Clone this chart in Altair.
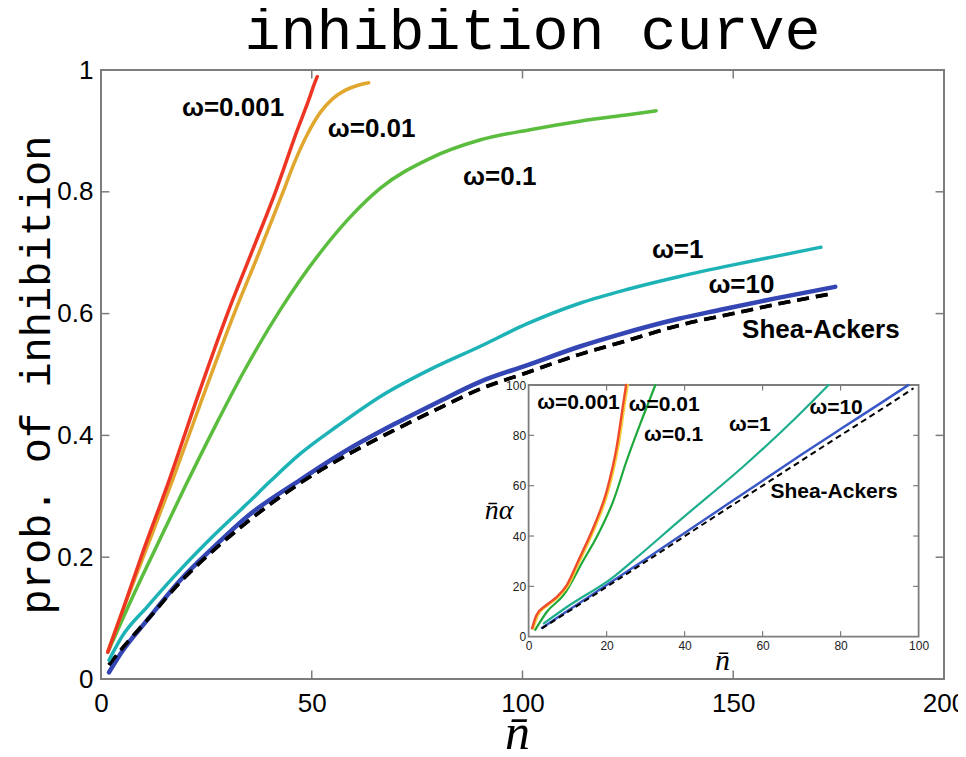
import altair as alt
import pandas as pd

# ---------------- data ----------------
# main panel: probability of inhibition vs n-bar
red_x = [1.6, 5, 9.5, 16.2, 23, 30, 36, 41.4, 46.5, 49.5, 50.5, 51.3]
red_y = [0.044, 0.11, 0.2, 0.327, 0.465, 0.6, 0.705, 0.8, 0.9, 0.955, 0.975, 0.989]

orange_x = [1.6, 5, 10, 17, 24, 31.6, 37.5, 43.2, 46, 49, 52, 55, 58, 61, 63.5]
orange_y = [0.045, 0.11, 0.2, 0.327, 0.46, 0.6, 0.7, 0.8, 0.85, 0.895, 0.93, 0.953, 0.967, 0.975, 0.979]

green_x = [1.6, 6, 11.8, 20.1, 27, 33.5, 42.6, 52, 60, 66.3, 78.1, 89.9, 101.8, 113.6, 125.5, 131.7]
green_y = [0.044, 0.112, 0.198, 0.318, 0.414, 0.5, 0.607, 0.7, 0.765, 0.806, 0.855, 0.885, 0.902, 0.916, 0.927, 0.933]

cyan_x = [1.9, 5, 11, 18.9, 26.8, 34.7, 40.2, 47.3, 56, 66.3, 78, 89.9, 101, 113.6, 125, 137.3, 150, 160, 170.8]
cyan_y = [0.031, 0.07, 0.119, 0.18, 0.236, 0.288, 0.325, 0.37, 0.415, 0.464, 0.508, 0.546, 0.583, 0.617, 0.64, 0.661, 0.68, 0.694, 0.709]

blue_x = [1.9, 5, 11, 18.9, 26.8, 34.7, 47.3, 58.4, 70, 80, 89.9, 101, 113.6, 123.1, 137.3, 146.7, 160, 174.2]
blue_y = [0.011, 0.045, 0.097, 0.163, 0.217, 0.267, 0.327, 0.376, 0.42, 0.455, 0.488, 0.515, 0.546, 0.566, 0.592, 0.606, 0.625, 0.644]

sa_x = [1.9, 5, 11, 18.9, 26.8, 34.7, 47.3, 58.4, 70, 80, 89.9, 101, 113.6, 125, 137.3, 150, 160, 173.6]
sa_y = [0.023, 0.05, 0.097, 0.16, 0.212, 0.258, 0.322, 0.368, 0.41, 0.444, 0.476, 0.503, 0.533, 0.556, 0.581, 0.6, 0.615, 0.633]

# inset: n-bar_alpha vs n-bar
in_red_x = [0.9, 2, 4.5, 7, 9.8, 12.4, 14.5, 16.7, 20.1, 22.6, 24.4, 25.0]
in_red_y = [3.3, 8.5, 12.5, 15.5, 20.5, 29, 36, 43.7, 58.3, 75.5, 94, 100]
in_yel_x = [1.2, 2.4, 4.9, 7.4, 10.2, 12.8, 14.9, 17.1, 20.5, 23, 24.8, 25.4]
in_yel_y = [3.3, 8.5, 12.5, 15.5, 20.5, 29, 36, 43.7, 58.3, 75.5, 94, 100]
in_green_x = [1.7, 4.7, 9, 14.1, 17.5, 21.8, 25.2, 29, 32.5]
in_green_y = [2.7, 9.9, 16.6, 30.5, 39.7, 54.3, 70.2, 86.1, 100]
in_teal_x = [3.9, 10, 21.8, 27, 38.9, 56, 68.8, 76.9]
in_teal_y = [5.3, 12, 23.8, 30.5, 46.4, 68.9, 87.4, 100]
in_blue_x = [3.4, 10, 20, 30, 40, 50, 60, 70, 80, 90, 97.4]
in_blue_y = [3.5, 10.3, 20.5, 30.8, 41.2, 51.6, 62, 72.4, 82.5, 92.5, 100]
in_sa_x = [3.4, 10, 20, 30, 40, 50, 60, 70, 80, 90, 98.7]
in_sa_y = [3.3, 9.8, 19.8, 29.8, 39.9, 50, 60, 70, 80, 89.9, 98.7]

# labels
main_labels = ["ω=0.001", "ω=0.01", "ω=0.1", "ω=1", "ω=10", "Shea-Ackers"]
main_label_x = [19.2, 53.8, 85.9, 130.7, 144.1, 152.1]
main_label_y = [0.9376, 0.903, 0.825, 0.704, 0.647, 0.573]
inset_labels = ["ω=0.001", "ω=0.01", "ω=0.1", "ω=1", "ω=10", "Shea-Ackers"]
inset_label_x = [2.2, 25.7, 29.6, 51.4, 72, 62]
inset_label_y = [92.8, 92, 80.1, 84.1, 90.9, 57.6]

main_xticks = [0, 50, 100, 150, 200]
main_yticks = [0, 0.2, 0.4, 0.6, 0.8, 1]
inset_ticks = [0, 20, 40, 60, 80, 100]

# ---------------- layout ----------------
W, H = 843, 609
FRAME = "#7d7d7d"

mx = alt.Scale(domain=[0, 200], nice=False, zero=False)
my = alt.Scale(domain=[0, 1], nice=False, zero=False)
ix = alt.Scale(domain=[0, 100], nice=False, zero=False, range=[427.6, 817.6])
iy = alt.Scale(domain=[0, 100], nice=False, zero=False, range=[566.7, 315.0])

AXM_X = alt.Axis(orient="bottom", values=main_xticks, grid=False, ticks=False, domain=False,
                 labelFlush=False, labelOverlap=False,
                 labelFont="Liberation Sans", labelFontSize=26, labelColor="black", labelPadding=11,
                 title="n̄", titleFont="Liberation Serif", titleFontStyle="italic",
                 titleFontWeight="normal", titleFontSize=50, titleColor="black",
                 titleX=416, titleY=69, titleBaseline="alphabetic", titleAlign="center")
AXM_Y = alt.Axis(orient="left", values=main_yticks, format="~g", grid=False, ticks=False, domain=False,
                 labelFlush=False, labelOverlap=False,
                 labelFont="Liberation Sans", labelFontSize=26, labelColor="black", labelPadding=8,
                 title="prob. of inhibition", titleFont="Liberation Mono", titleFontSize=42,
                 titleFontWeight="normal", titleColor="black", titleX=-65, titleAngle=270,
                 titleBaseline="middle", titleAlign="center")
AXI_X = alt.Axis(orient="bottom", offset=-42.3, values=inset_ticks, grid=False, ticks=False, domain=False,
                 labelFlush=False, labelOverlap=False,
                 labelFont="Liberation Sans", labelFontSize=12, labelColor="#222", labelPadding=4,
                 title="n̄", titleFont="Liberation Serif", titleFontStyle="italic",
                 titleFontWeight="normal", titleFontSize=30, titleColor="black",
                 titleX=621, titleY=33, titleBaseline="alphabetic", titleAlign="center")
AXI_Y = alt.Axis(orient="left", offset=-427.6, values=inset_ticks, grid=False, ticks=False, domain=False,
                 labelFlush=False, labelOverlap=False,
                 labelFont="Liberation Sans", labelFontSize=12, labelColor="#222", labelPadding=3,
                 title="n̄α", titleFont="Liberation Serif", titleFontStyle="italic",
                 titleFontWeight="normal", titleFontSize=28, titleColor="black",
                 titleAngle=0, titleX=-30, titleY=440, titleBaseline="middle", titleAlign="center")


def line(xs, ys, color, width, xs_scale, ys_scale, ax_x, ax_y, dash=None):
    df = pd.DataFrame({"x": xs, "y": ys, "o": list(range(len(xs)))})
    kw = dict(color=color, strokeWidth=width, strokeCap="round", strokeJoin="round",
              interpolate="monotone")
    if dash is not None:
        kw["strokeDash"] = dash
        kw["strokeCap"] = "butt"
    return alt.Chart(df).mark_line(**kw).encode(
        x=alt.X("x:Q", scale=xs_scale, axis=ax_x),
        y=alt.Y("y:Q", scale=ys_scale, axis=ax_y),
        order="o:Q",
    )


def labels(texts, xs, ys, size, xs_scale, ys_scale, ax_x, ax_y):
    df = pd.DataFrame({"t": texts, "x": xs, "y": ys})
    return alt.Chart(df).mark_text(font="Liberation Sans", fontWeight="bold", fontSize=size,
                                   align="left", baseline="middle", color="black").encode(
        x=alt.X("x:Q", scale=xs_scale, axis=ax_x),
        y=alt.Y("y:Q", scale=ys_scale, axis=ax_y),
        text="t:N",
    )


def vticks(vals, y0, y1, xs_scale, ys_scale, ax_x, ax_y, w):
    df = pd.DataFrame({"t": vals})
    return alt.Chart(df).mark_rule(color=FRAME, strokeWidth=w).encode(
        x=alt.X("t:Q", scale=xs_scale, axis=ax_x),
        y=alt.YDatum(y0, scale=ys_scale, axis=ax_y),
        y2=alt.Y2Datum(y1),
    )


def hticks(vals, x0, x1, xs_scale, ys_scale, ax_x, ax_y, w):
    df = pd.DataFrame({"t": vals})
    return alt.Chart(df).mark_rule(color=FRAME, strokeWidth=w).encode(
        y=alt.Y("t:Q", scale=ys_scale, axis=ax_y),
        x=alt.XDatum(x0, scale=xs_scale, axis=ax_x),
        x2=alt.X2Datum(x1),
    )


M = (mx, my, AXM_X, AXM_Y)
main = alt.layer(
    vticks(main_xticks[1:-1], 0, 0.014, *M, 1.5),
    vticks(main_xticks[1:-1], 1, 0.986, *M, 1.5),
    hticks(main_yticks[1:-1], 0, 2.0, *M, 1.5),
    hticks(main_yticks[1:-1], 200, 198.0, *M, 1.5),
    line(sa_x, sa_y, "black", 3.6, *M, dash=[12, 7]),
    line(blue_x, blue_y, "#3445B4", 4.5, *M),
    line(sa_x, sa_y, "black", 3.6, *M, dash=[12, 7]),
    line(cyan_x, cyan_y, "#1DB3B6", 3.5, *M),
    line(green_x, green_y, "#5BBD3E", 3.5, *M),
    line(orange_x, orange_y, "#E0A62E", 3.5, *M),
    line(red_x, red_y, "#EE3524", 3.5, *M),
    labels(main_labels, main_label_x, main_label_y, 26, *M),
)

I = (ix, iy, AXI_X, AXI_Y)
bg = alt.Chart(pd.DataFrame({"a": [0]})).mark_rect(fill="white", stroke=FRAME, strokeWidth=1.8).encode(
    x=alt.XDatum(0, scale=ix, axis=AXI_X), x2=alt.X2Datum(100),
    y=alt.YDatum(0, scale=iy, axis=AXI_Y), y2=alt.Y2Datum(100),
)
inset = alt.layer(
    bg,
    vticks(inset_ticks[1:-1], 0, 2.2, *I, 1.2),
    vticks(inset_ticks[1:-1], 100, 97.8, *I, 1.2),
    hticks(inset_ticks[1:-1], 0, 1.4, *I, 1.2),
    hticks(inset_ticks[1:-1], 100, 98.6, *I, 1.2),
    line(in_blue_x, in_blue_y, "#3A57C8", 2.4, *I),
    line(in_sa_x, in_sa_y, "black", 2.0, *I, dash=[6, 4]),
    line(in_teal_x, in_teal_y, "#1FAE8C", 2.2, *I),
    line(in_green_x, in_green_y, "#1FA83A", 2.2, *I),
    line(in_yel_x, in_yel_y, "#F5CF3A", 2.4, *I),
    line(in_red_x, in_red_y, "#EE4B2B", 2.4, *I),
    labels(inset_labels, inset_label_x, inset_label_y, 21, *I),
)

chart = alt.layer(main, inset).resolve_scale(x="independent", y="independent").properties(
    width=W, height=H,
    title=alt.Title("inhibition curve", font="Liberation Mono", fontSize=60, fontWeight="normal",
                    color="black", anchor="middle", frame="group", offset=19,
                    baseline="alphabetic", dx=10, dy=71),
    autosize=alt.AutoSizeParams(type="none"),
    padding={"left": 93, "top": 62, "right": 14, "bottom": 70},
    background="white",
).configure_view(stroke=FRAME, strokeWidth=2)

chart.save("out.html", embed_options={"renderer": "svg", "actions": False})
